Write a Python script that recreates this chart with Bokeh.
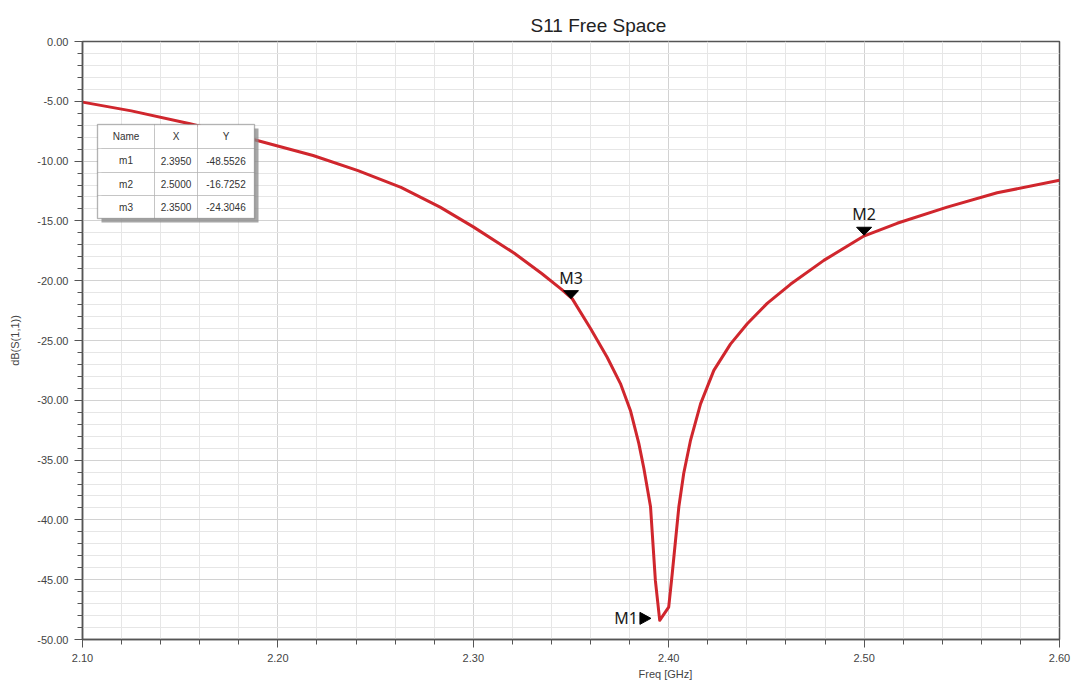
import numpy as np
from bokeh.plotting import figure
from bokeh.models import (SingleIntervalTicker, NumeralTickFormatter, Range1d, Label,
                          BoxAnnotation, ColumnDataSource, Title)
from bokeh.embed import file_html
from bokeh.resources import INLINE
from bokeh.core.properties import value

# ---------------- data ----------------
freq = [2.100, 2.125, 2.155, 2.188, 2.218, 2.241, 2.263, 2.283, 2.300, 2.321, 2.335,
        2.345, 2.3506, 2.360, 2.3685, 2.3753, 2.3805, 2.3847, 2.3873, 2.3907, 2.3932,
        2.3954, 2.400, 2.4018, 2.4035, 2.4052, 2.4077, 2.4111, 2.4163, 2.4231, 2.4316,
        2.4402, 2.4504, 2.4623, 2.4794, 2.4995, 2.5169, 2.5425, 2.5681, 2.600]
s11_db = [-5.07, -5.8, -6.88, -8.22, -9.53, -10.8, -12.2, -13.85, -15.5, -17.7, -19.4,
          -20.7, -21.5, -24.0, -26.4, -28.6, -30.9, -33.6, -35.7, -38.9, -45.1,
          -48.4, -47.3, -44.5, -41.7, -38.9, -36.1, -33.4, -30.3, -27.5, -25.3,
          -23.6, -21.9, -20.3, -18.3, -16.3, -15.2, -13.85, -12.65, -11.6]

marker_names = ["m1", "m2", "m3"]
marker_labels = ["M1", "M2", "M3"]
marker_x = [2.395, 2.500, 2.350]
marker_y = [-48.4, -16.2, -21.5]
table_x = ["2.3950", "2.5000", "2.3500"]
table_y = ["-48.5526", "-16.7252", "-24.3046"]
table_header = ["Name", "X", "Y"]

x_ticks_interval = 0.1
y_ticks_interval = 5

# ---------------- layout ----------------
W, H = 1076, 696
BL, BR, BT, BB = 82, 17, 41, 57
FW, FH = W - BL - BR, H - BT - BB
X0, X1, Y0, Y1 = 2.10, 2.60, -50.0, 0.0
dx_px = (X1 - X0) / FW
dy_px = (Y1 - Y0) / FH

p = figure(width=W, height=H, output_backend="svg", toolbar_location=None,
           x_range=Range1d(X0, X1), y_range=Range1d(Y0, Y1),
           min_border_left=BL, min_border_right=BR, min_border_top=BT, min_border_bottom=BB,
           background_fill_color="white", border_fill_color="white")

p.title.text = "S11 Free Space"
p.title.align = "left"
p.title.offset = 448
p.title.text_font = "Liberation Sans"
p.title.text_font_size = "19px"
p.title.text_font_style = "normal"
p.title.text_color = "#222222"
p.title.standoff = 12

p.add_layout(Title(text="Freq [GHz]", align="left", offset=556, text_font="Liberation Sans",
                   text_font_size="11px", text_font_style="normal", text_color="#444444",
                   standoff=2), "below")

p.xaxis.ticker = SingleIntervalTicker(interval=x_ticks_interval, num_minor_ticks=5)
p.yaxis.ticker = SingleIntervalTicker(interval=y_ticks_interval, num_minor_ticks=5)
p.xaxis.formatter = NumeralTickFormatter(format="0.00")
p.yaxis.formatter = NumeralTickFormatter(format="0.00")

for ax in (p.xaxis, p.yaxis):
    ax.axis_line_color = "#555555"
    ax.axis_line_width = 1.5
    ax.major_tick_line_color = "#555555"
    ax.minor_tick_line_color = "#555555"
    ax.major_tick_in = 0
    ax.major_tick_out = 8
    ax.minor_tick_in = 0
    ax.minor_tick_out = 5
    ax.major_label_text_font = "Liberation Sans"
    ax.major_label_text_font_size = "11px"
    ax.major_label_text_color = "#444444"
    ax.major_label_standoff = 6

p.yaxis.axis_label = "dB(S(1,1))"
p.yaxis.axis_label_text_font = "Liberation Sans"
p.yaxis.axis_label_text_font_size = "11px"
p.yaxis.axis_label_text_font_style = "normal"
p.yaxis.axis_label_text_color = "#444444"
p.yaxis.axis_label_standoff = 13

p.xgrid.grid_line_color = "#d2d2d2"
p.ygrid.grid_line_color = "#d2d2d2"
p.xgrid.minor_grid_line_color = "#e6e6e6"
p.ygrid.minor_grid_line_color = "#e6e6e6"
p.outline_line_color = "#555555"
p.outline_line_width = 1.5

# curve
p.line(freq, s11_db, line_color="#d0262d", line_width=3, line_join="round")

# ---------------- markers ----------------
down_idx = [1, 2]
tri_w, tri_h = 15, 8
xs, ys = [], []
for i in down_idx:
    mx, my = marker_x[i], marker_y[i]
    xs.append([mx - tri_w / 2 * dx_px, mx + tri_w / 2 * dx_px, mx])
    ys.append([my + tri_h * dy_px, my + tri_h * dy_px, my])
mx, my = marker_x[0], marker_y[0]
tip_x = mx - 8 * dx_px
tip_y = my + 2 * dy_px
xs.append([tip_x - 11 * dx_px, tip_x - 11 * dx_px, tip_x])
ys.append([tip_y + 6 * dy_px, tip_y - 6 * dy_px, tip_y])
p.patches(xs, ys, fill_color="black", line_color="black", line_width=1)

src_down = ColumnDataSource(dict(x=[marker_x[i] for i in down_idx],
                                 y=[marker_y[i] for i in down_idx],
                                 t=[marker_labels[i] for i in down_idx]))
p.text(x="x", y="y", text="t", source=src_down, text_align="center", text_baseline="bottom",
       y_offset=-10, text_font=value("Noto Sans"), text_font_size="16px", text_color="#1a1a1a")
src_m1 = ColumnDataSource(dict(x=[marker_x[0]], y=[marker_y[0]], t=[marker_labels[0]]))
p.text(x="x", y="y", text="t", source=src_m1, text_align="right", text_baseline="middle",
       x_offset=-21, y_offset=-2, text_font=value("Noto Sans"), text_font_size="16px",
       text_color="#1a1a1a")

# ---------------- marker table (screen units, frame-relative) ----------------
def fx(cx):
    return cx - BL

def fy(cy):
    return (H - BB) - cy

col_edges = [97, 154, 197, 254]
row_edges = [124, 148, 172, 195, 218]

p.add_layout(BoxAnnotation(left=fx(col_edges[0] + 4), right=fx(col_edges[-1] + 4),
                           top=fy(row_edges[0] + 4), bottom=fy(row_edges[-1] + 4),
                           left_units="screen", right_units="screen",
                           top_units="screen", bottom_units="screen",
                           fill_color="#8a8a8a", fill_alpha=0.75, line_color=None))
for r in range(4):
    for c in range(3):
        p.add_layout(BoxAnnotation(left=fx(col_edges[c]), right=fx(col_edges[c + 1]),
                                   top=fy(row_edges[r]), bottom=fy(row_edges[r + 1]),
                                   left_units="screen", right_units="screen",
                                   top_units="screen", bottom_units="screen",
                                   fill_color="white", fill_alpha=1.0,
                                   line_color="#8c8c8c", line_width=1))
p.add_layout(BoxAnnotation(left=fx(col_edges[0]), right=fx(col_edges[-1]),
                           top=fy(row_edges[0]), bottom=fy(row_edges[-1]),
                           left_units="screen", right_units="screen",
                           top_units="screen", bottom_units="screen",
                           fill_alpha=0, line_color="#555555", line_width=1.5))

rows = [table_header] + [[marker_names[i], table_x[i], table_y[i]] for i in range(3)]
for r, row in enumerate(rows):
    cy = (row_edges[r] + row_edges[r + 1]) / 2
    for c, txt in enumerate(row):
        cx = (col_edges[c] + col_edges[c + 1]) / 2
        p.add_layout(Label(x=fx(cx), y=fy(cy), x_units="screen", y_units="screen", text=txt,
                           text_align="center", text_baseline="middle",
                           text_font="Liberation Sans", text_font_size="10px",
                           text_color="#333333"))

open("out.html", "w").write(file_html(p, INLINE))
